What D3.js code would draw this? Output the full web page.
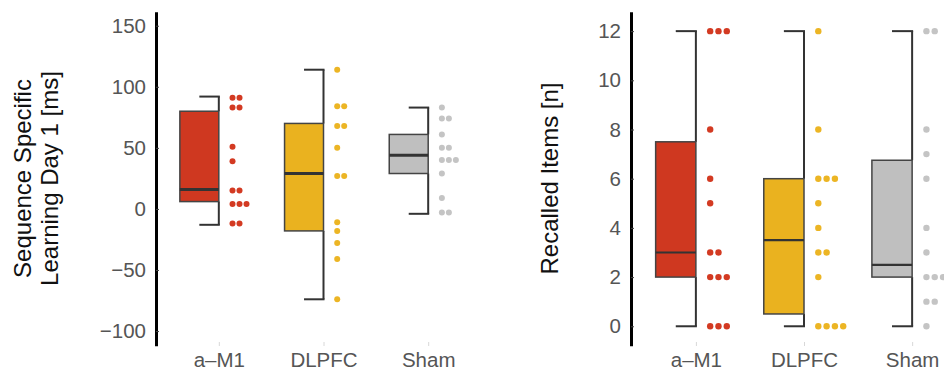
<!DOCTYPE html>
<html><head><meta charset="utf-8">
<script src="https://cdn.jsdelivr.net/npm/d3@7"></script>
<style>
html,body{margin:0;padding:0;background:#fff;}
svg{display:block;font-family:Helvetica,"Liberation Sans",Arial,sans-serif;}
</style></head>
<body><svg id="c" width="944" height="374"></svg>
<script>
// ---------- data ----------
const categories = ["a\u2013M1", "DLPFC", "Sham"];
const colors = ["#cf3820", "#eab21f", "#bfbfbf"];
const dotColors = ["#d33a22", "#ecb524", "#c4c4c4"];

// Panel 1: Sequence Specific Learning Day 1 [ms]
const learnTicks = [-100, -50, 0, 50, 100, 150];
const learnQ1 = [6, -18, 29];
const learnMedian = [16, 29, 44];
const learnQ3 = [80, 70, 61];
const learnLow = [-13, -74, -4];
const learnHigh = [92, 114, 83];
const learnDotsA = [91, 91, 83, 83, 51, 39, 15, 15, 4, 4, 4, -12, -12];
const learnDotsD = [114, 84, 84, 68, 68, 50, 27, 27, -11, -18, -28, -41, -74];
const learnDotsS = [83, 74, 74, 61, 50, 50, 40, 40, 40, 29, 9, -3, -3];

// Panel 2: Recalled Items [n]
const recallTicks = [0, 2, 4, 6, 8, 10, 12];
const recallQ1 = [2, 0.5, 2];
const recallMedian = [3, 3.5, 2.5];
const recallQ3 = [7.5, 6, 6.75];
const recallLow = [0, 0, 0];
const recallHigh = [12, 12, 12];
const recallDotsA = [12, 12, 12, 8, 6, 5, 3, 3, 2, 2, 2, 0, 0, 0];
const recallDotsD = [12, 8, 6, 6, 6, 5, 4, 3, 3, 2, 0, 0, 0, 0];
const recallDotsS = [12, 12, 8, 7, 6, 4, 3, 2, 2, 2, 2, 1, 1, 0];

// ---------- drawing ----------
const svg = d3.select("#c");
const FONT = "Helvetica, 'Liberation Sans', Arial, sans-serif";

function panel(cfg) {
  const x = d3.scaleLinear().domain([0.4, 3.6]).range(cfg.xRange);
  const y = d3.scaleLinear().domain(cfg.yDomain).range([345.7, 11.7]);
  const step = x(2) - x(1);
  const bw = step * 0.372;
  const g = svg.append("g");

  // x ticks & labels
  const xa = d3.axisBottom(x).tickValues([1, 2, 3])
    .tickFormat((d, i) => categories[i]).tickSizeInner(4).tickSizeOuter(0).tickPadding(6);
  const xg = g.append("g").attr("transform", "translate(0,342)").call(xa);
  xg.select(".domain").remove();
  xg.selectAll(".tick line").attr("stroke", "#d8d8d8");
  xg.selectAll(".tick text").attr("fill", "#555").attr("font-size", 20.5)
    .attr("font-family", FONT);

  // y axis
  const ya = d3.axisLeft(y).tickValues(cfg.ticks)
    .tickFormat(d => d < 0 ? "\u2212" + Math.abs(d) : d)
    .tickSizeInner(-3).tickSizeOuter(0).tickPadding(10);
  const yg = g.append("g").attr("transform", `translate(${cfg.xRange[0]},0)`).call(ya);
  yg.select(".domain").attr("stroke", "#000").attr("stroke-width", 3);
  yg.selectAll(".tick line").attr("stroke", "#444");
  yg.selectAll(".tick text").attr("fill", "#555").attr("font-size", 20.5)
    .attr("font-family", FONT);

  // y title
  const t = g.append("text")
    .attr("transform", `translate(${cfg.titleX},178.5) rotate(-90)`)
    .attr("text-anchor", "middle").attr("fill", "#111").attr("font-size", 24);
  cfg.title.forEach((line, i) => {
    t.append("tspan").attr("x", 0).attr("dy", i === 0 ? 0 : 27).text(line);
  });

  // boxes
  categories.forEach((c, i) => {
    const cx = x(i + 1);
    const bg = g.append("g");
    // whiskers
    bg.append("line").attr("x1", cx).attr("x2", cx)
      .attr("y1", y(cfg.q3[i])).attr("y2", y(cfg.hi[i]))
      .attr("stroke", "#333").attr("stroke-width", 2);
    bg.append("line").attr("x1", cx).attr("x2", cx)
      .attr("y1", y(cfg.q1[i])).attr("y2", y(cfg.lo[i]))
      .attr("stroke", "#333").attr("stroke-width", 2);
    [cfg.hi[i], cfg.lo[i]].forEach(v => {
      bg.append("line").attr("x1", cx - bw / 2).attr("x2", cx + 1)
        .attr("y1", y(v)).attr("y2", y(v))
        .attr("stroke", "#333").attr("stroke-width", 2);
    });
    bg.append("rect").attr("x", cx - bw).attr("width", bw)
      .attr("y", y(cfg.q3[i])).attr("height", y(cfg.q1[i]) - y(cfg.q3[i]))
      .attr("fill", colors[i]).attr("stroke", "#444").attr("stroke-width", 1.5);
    bg.append("line").attr("x1", cx - bw).attr("x2", cx)
      .attr("y1", y(cfg.med[i])).attr("y2", y(cfg.med[i]))
      .attr("stroke", "#333").attr("stroke-width", cfg.medW);

    // dots: stack equal values horizontally
    const counts = {};
    cfg.dots[i].forEach(v => {
      const k = counts[v] || 0;
      counts[v] = k + 1;
      bg.append("circle")
        .attr("cx", cx + cfg.dotOff + k * cfg.dotGap)
        .attr("cy", y(v)).attr("r", cfg.r)
        .attr("fill", dotColors[i]);
    });
  });
}

panel({
  xRange: [156, 491], yDomain: [-112, 161.5], ticks: learnTicks,
  q1: learnQ1, med: learnMedian, q3: learnQ3, lo: learnLow, hi: learnHigh,
  dots: [learnDotsA, learnDotsD, learnDotsS],
  dotOff: 13.7, dotGap: 7, r: 3, medW: 3,
  title: ["Sequence Specific", "Learning Day 1 [ms]"], titleX: 31
});
panel({
  xRange: [631, 977], yDomain: [-0.79, 12.79], ticks: recallTicks,
  q1: recallQ1, med: recallMedian, q3: recallQ3, lo: recallLow, hi: recallHigh,
  dots: [recallDotsA, recallDotsD, recallDotsS],
  dotOff: 14.3, dotGap: 8.3, r: 3.2, medW: 2.2,
  title: ["Recalled Items [n]"], titleX: 558
});
</script></body></html>
